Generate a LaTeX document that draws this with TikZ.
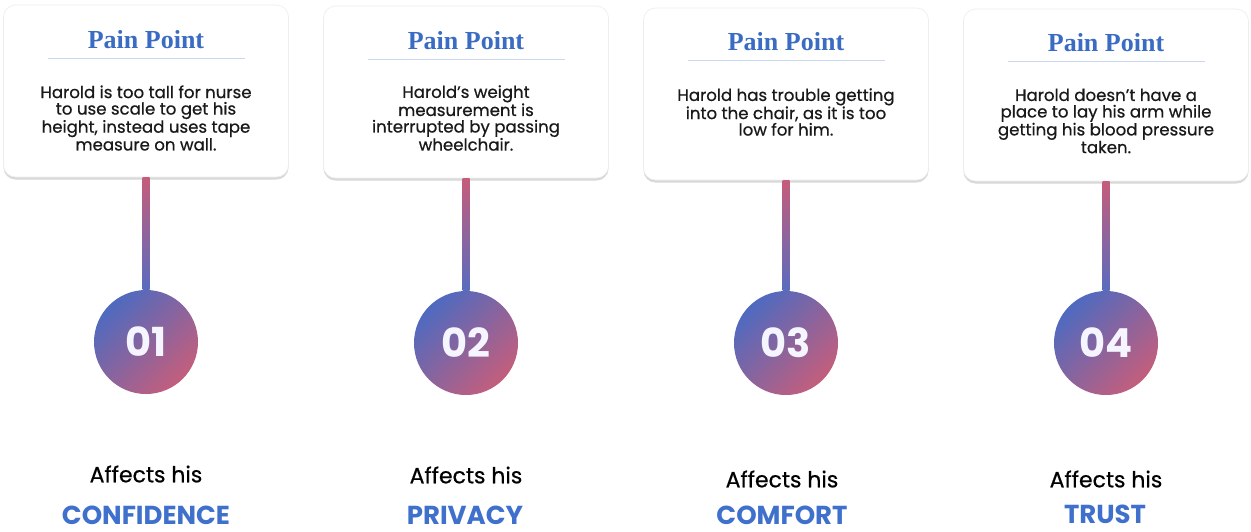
\documentclass[tikz,border=0pt]{standalone}
\usepackage{fontspec}
\setmainfont{Poppins}
\newfontfamily\titlefont{Liberation Serif}
\newfontfamily\bodyfont{Poppins}[FakeBold=0.6]
\usetikzlibrary{shadows,calc}
\definecolor{tblue}{RGB}{58,108,196}
\definecolor{lblue}{RGB}{62,112,204}
\definecolor{ulblue}{RGB}{200,216,242}
\definecolor{cblue}{RGB}{78,106,192}
\definecolor{cpink}{RGB}{196,94,124}
\definecolor{spink}{RGB}{198,92,122}
\definecolor{sblue}{RGB}{88,108,192}
\definecolor{txt}{RGB}{25,25,25}
\tikzset{
  card/.style={draw=black!7, line width=0.6pt, fill=white, rounded corners=12pt, minimum width=285pt, minimum height=172pt,
    drop shadow={shadow xshift=0pt, shadow yshift=-2.5pt, opacity=0.25, fill=black!60}},
  ttl/.style={font=\titlefont\bfseries\fontsize{26}{28}\selectfont, text=tblue},
  body/.style={font=\bodyfont\fontsize{16.6}{16.5}\selectfont, text=txt, align=center},
  num/.style={circle, minimum size=104pt, top color=cblue, bottom color=cpink, shading angle=45,
    font=\bfseries\fontsize{40}{42}\selectfont, text=white!96!blue},
  aff/.style={font=\bodyfont\fontsize{22}{24}\selectfont, text=black},
  kw/.style={font=\bfseries\fontsize{26}{28}\selectfont, text=lblue, inner sep=0pt},
}
\begin{document}
\begin{tikzpicture}[x=1pt,y=-1pt]
\useasboundingbox (0,0) rectangle (1251,531);
\fill[white] (0,0) rectangle (1251,531);
% cards
\node[card] (card1) at (146,91) {};
\node[card] (card2) at (466,92) {};
\node[card] (card3) at (786,94) {};
\node[card] (card4) at (1106,95) {};
% circles
\node[num] (c1) at (146,342) {01};
\node[num] (c2) at (466,343) {02};
\node[num] (c3) at (786,343) {03};
\node[num] (c4) at (1106,343) {04};
% stems
\foreach \i in {1,2,3,4}{
  \shade[top color=spink, bottom color=sblue] ($(card\i.south)+(-3.5,0)$) rectangle ($(c\i.north)+(3.5,0)$);
}
% titles
\node[ttl] (t1) at (146,40) {Pain Point};
\node[ttl] (t2) at (466,41) {Pain Point};
\node[ttl] (t3) at (786,42) {Pain Point};
\node[ttl] (t4) at (1106,43) {Pain Point};
\foreach \x/\y in {146/58,466/59,786/60,1106/61}{
  \draw[ulblue, line width=0.8pt] (\x-98.5,\y) -- (\x+98.5,\y);
}
% body texts
\node[body] (b1) at (146,118) {Harold is too tall for nurse\\to use scale to get his\\height, instead uses tape\\measure on wall.};
\node[body] (b2) at (466,118) {Harold’s weight\\measurement is\\interrupted by passing\\wheelchair.};
\node[body] (b3) at (786,112) {Harold has trouble getting\\into the chair, as it is too\\low for him.};
\node[body] (b4) at (1106,121) {Harold doesn’t have a\\place to lay his arm while\\getting his blood pressure\\taken.};
% bottom labels
\node[aff] (a1) at (146,474) {Affects his};
\node[aff] (a2) at (466,475) {Affects his};
\node[aff] (a3) at (782,479) {Affects his};
\node[aff] (a4) at (1106,479) {Affects his};
\node[kw] (k1) at (146,515) {CONFIDENCE};
\node[kw] (k2) at (465,515) {PRIVACY};
\node[kw] (k3) at (782,515) {COMFORT};
\node[kw] (k4) at (1105,514) {TRUST};
\end{tikzpicture}
\end{document}
